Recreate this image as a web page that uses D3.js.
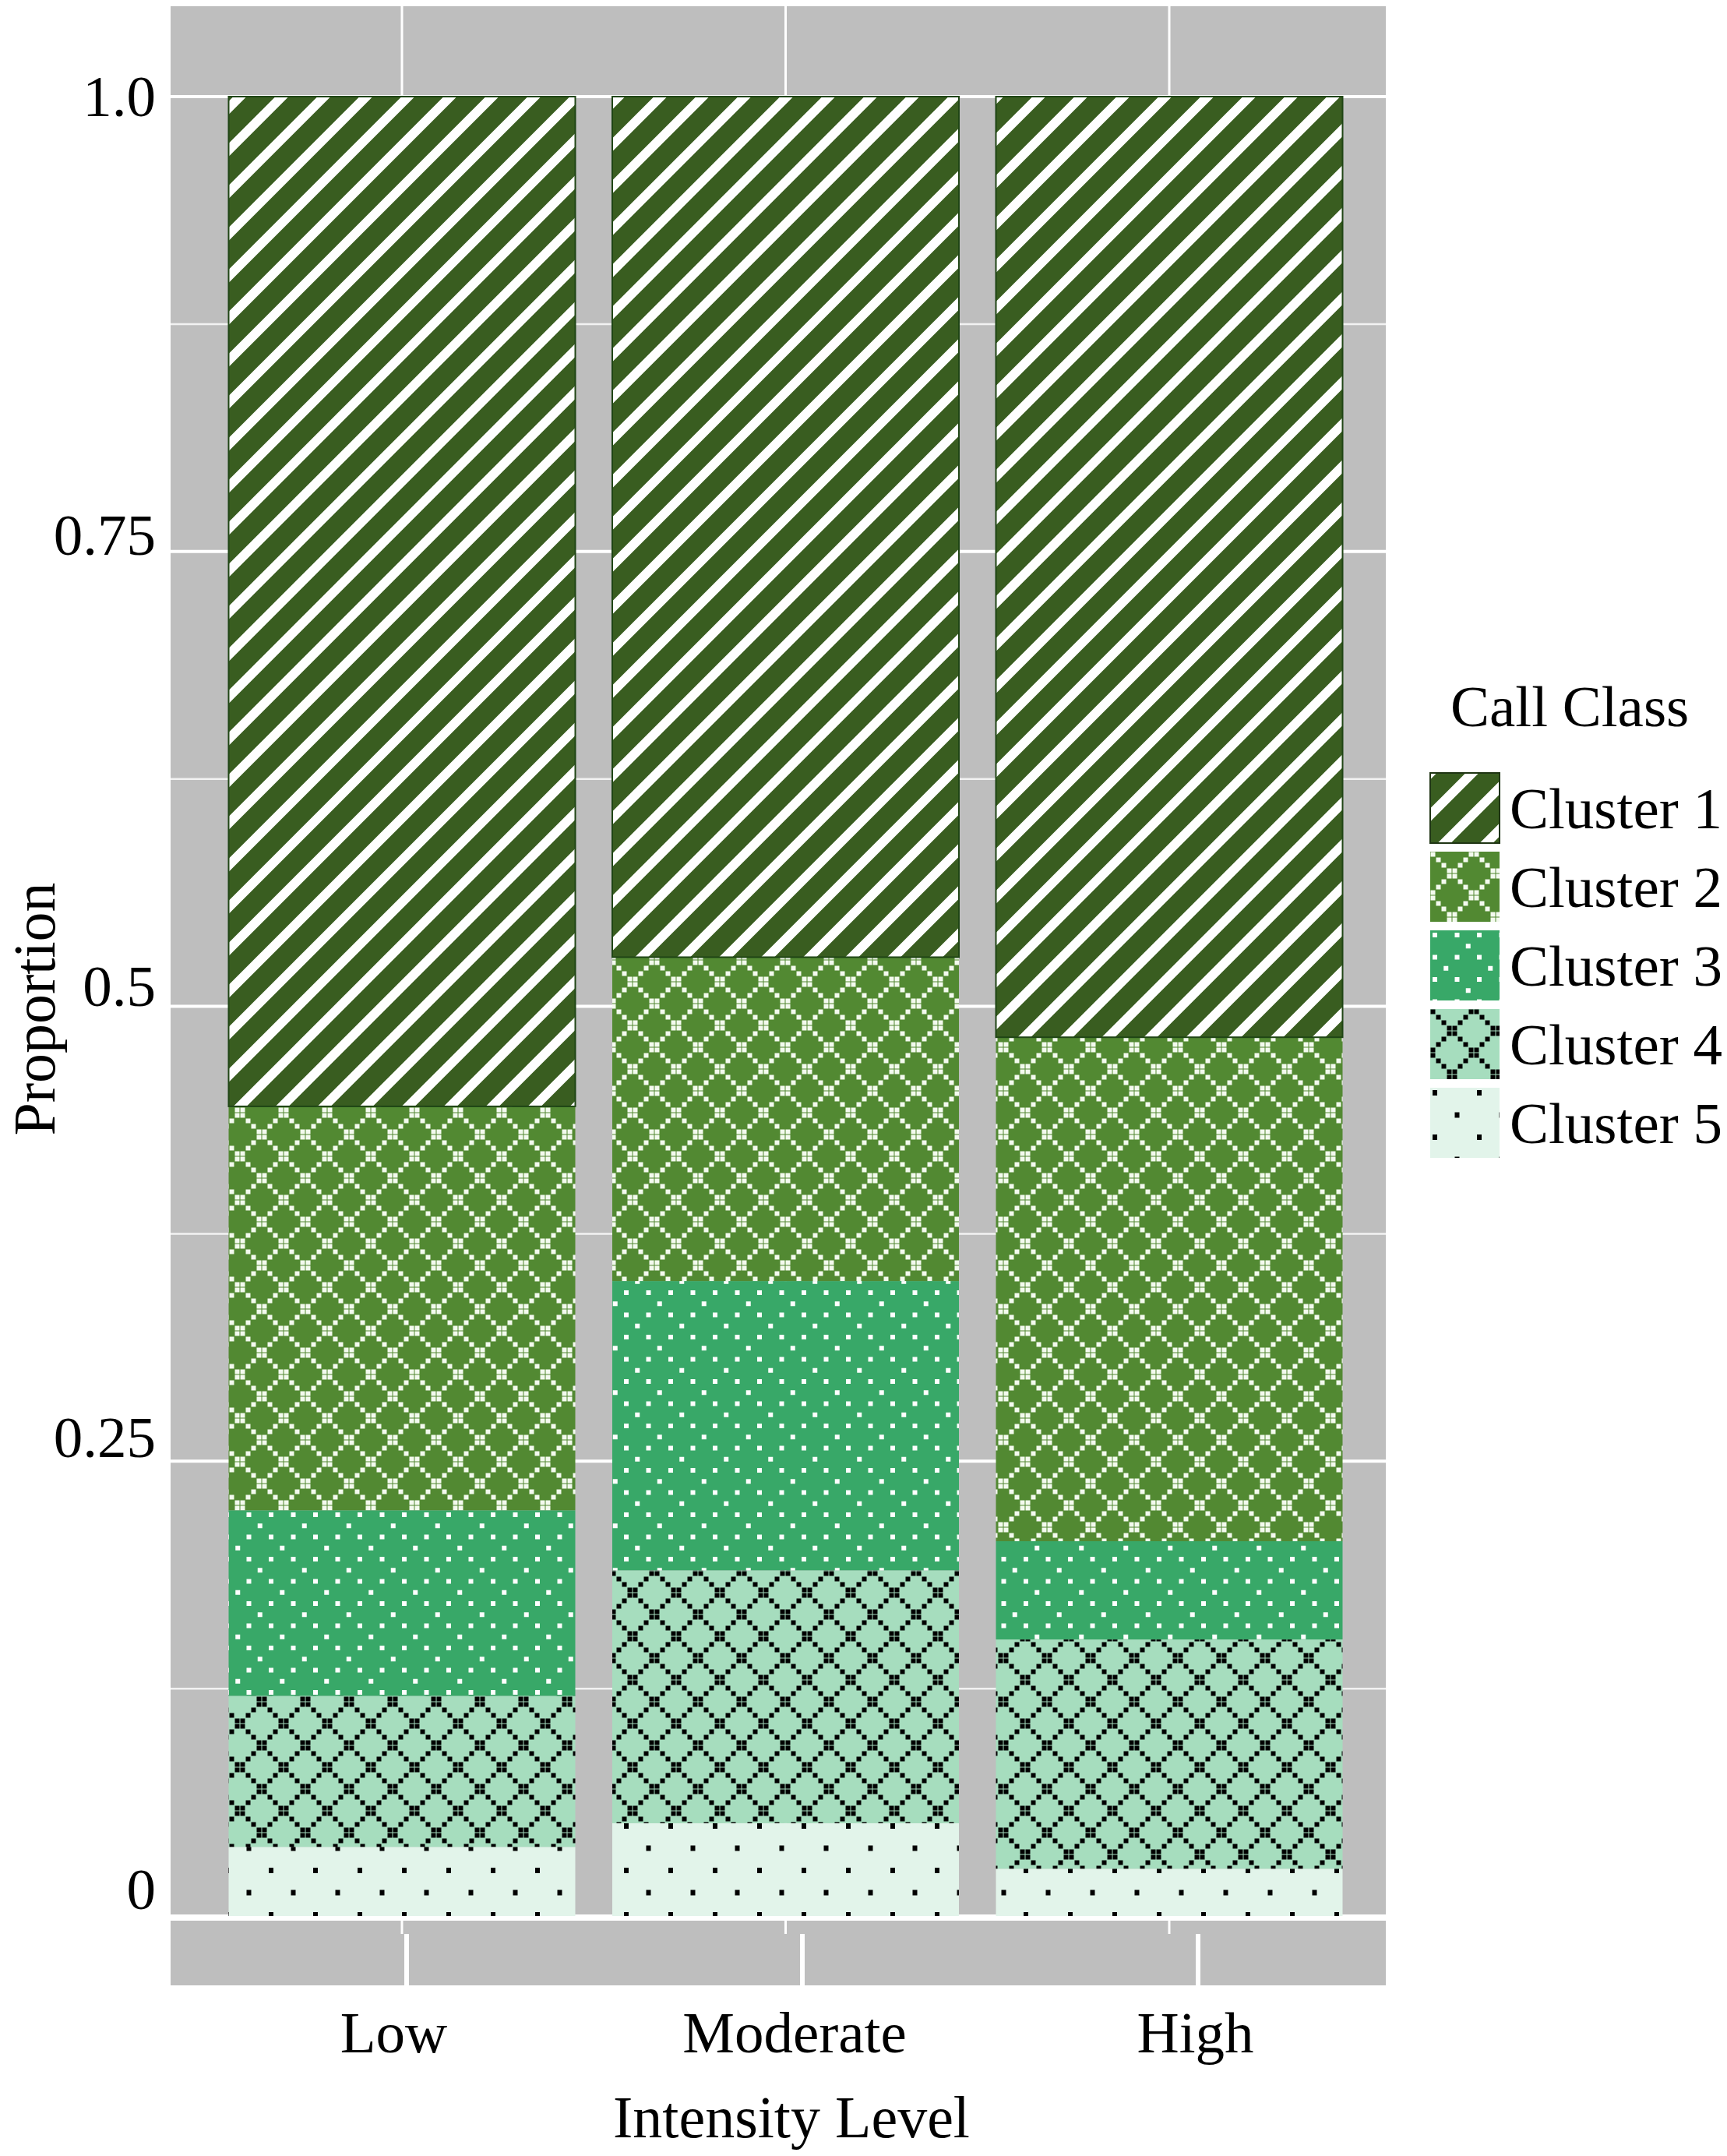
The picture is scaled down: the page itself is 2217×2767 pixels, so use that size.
<!DOCTYPE html>
<html>
<head>
<meta charset="utf-8">
<script src="https://cdn.jsdelivr.net/npm/d3@7"></script>
<style>
  body { margin: 0; background: #ffffff; }
  text { font-family: "Liberation Serif", "Times New Roman", serif; fill: #000; }
</style>
</head>
<body>
<div id="chart"></div>
<script>
// categories and series (proportions)
var levels = ["Low", "Moderate", "High"];
var clusters = ["Cluster 1", "Cluster 2", "Cluster 3", "Cluster 4", "Cluster 5"];
var cluster1 = [0.555, 0.473, 0.517];
var cluster2 = [0.222, 0.178, 0.277];
var cluster3 = [0.102, 0.159, 0.054];
var cluster4 = [0.083, 0.139, 0.126];
var cluster5 = [0.038, 0.051, 0.026];
var yTicks = [0, 0.25, 0.5, 0.75, 1];
var yTickLabels = ["0", "0.25", "0.5", "0.75", "1.0"];
var yMinor = [0.125, 0.375, 0.625, 0.875];

var fills = ["#395d20", "#528932", "#38a868", "#a6ddbe", "#e2f4ea"];

var width = 2217;
var height = 2767;

// table for the stack
var rows = levels.map(function(l, i) {
	return {level: l, "Cluster 1": cluster1[i], "Cluster 2": cluster2[i], "Cluster 3": cluster3[i],
		"Cluster 4": cluster4[i], "Cluster 5": cluster5[i]};
});

var svg = d3.select("#chart").append("svg")
	.attr("width", width)
	.attr("height", height);

svg.append("rect").attr("width", width).attr("height", height).attr("fill", "#ffffff");

// ---- patterns
var defs = svg.append("defs");

function pat(id, size, bg) {
	var p = defs.append("pattern")
		.attr("id", id)
		.attr("patternUnits", "userSpaceOnUse")
		.attr("width", size)
		.attr("height", size);
	p.append("rect").attr("width", size).attr("height", size).attr("fill", bg);
	return p;
}

// cluster 1 : white diagonal stripes
var s1 = 54;
pat("p0", s1, fills[0]).append("path")
	.attr("d", "M" + (-s1/4) + "," + (s1/4) + "L" + (s1/4) + "," + (-s1/4) +
		"M0," + s1 + "L" + s1 + ",0" +
		"M" + (s1*3/4) + "," + (s1*5/4) + "L" + (s1*5/4) + "," + (s1*3/4))
	.attr("stroke", "#ffffff")
	.attr("stroke-width", 12);

// cluster 2 and 4 : dotted diamond lattice
function lattice(id, bg, dot, sq) {
	var size = 56, step = 7;
	var p = pat(id, size, bg);
	for (var i = 0; i < 8; i++) {
		var c = 3.5 + step * i;
		p.append("rect").attr("x", c - sq/2).attr("y", c - sq/2).attr("width", sq).attr("height", sq).attr("fill", dot);
		p.append("rect").attr("x", c - sq/2).attr("y", size - c - sq/2).attr("width", sq).attr("height", sq).attr("fill", dot);
	}
}
lattice("p1", fills[1], "#f3faee", 6);
lattice("p3", fills[3], "#000000", 6);

// cluster 3 : white dots
var p2 = pat("p2", 57, fills[2]);
[[0, 0], [28.5, 0], [0, 28.5], [28.5, 28.5], [42.75, 14.25], [14.25, 42.75]].forEach(function(d) {
	p2.append("rect").attr("x", d[0] + 3).attr("y", d[1] + 3).attr("width", 6).attr("height", 6).attr("fill", "#ffffff");
});

// cluster 5 : sparse black dots
var p4 = pat("p4", 57, fills[4]);
[[0, 0], [28.5, 28.5]].forEach(function(d) {
	p4.append("rect").attr("x", d[0] + 3).attr("y", d[1] + 3).attr("width", 6).attr("height", 7).attr("fill", "#000000");
});

// ---- scales
var panel = {x0: 219, x1: 1779, y0: 8, y1: 2548};
var x = d3.scalePoint().domain(levels).range([516, 1501]);
var barW = 445;
var xTick = d3.scalePoint().domain(levels).range([522, 1538]);
var xLab = d3.scalePoint().domain(levels).range([505, 1534]);
var y = d3.scaleLinear().domain([0, 1]).range([2459, 124]);

// panel
svg.append("rect")
	.attr("x", panel.x0).attr("y", panel.y0)
	.attr("width", panel.x1 - panel.x0).attr("height", panel.y1 - panel.y0)
	.attr("fill", "#bebebe");

svg.selectAll(".minor").data(yMinor).enter().append("line")
	.attr("x1", panel.x0).attr("x2", panel.x1)
	.attr("y1", function(d) { return y(d); }).attr("y2", function(d) { return y(d); })
	.attr("stroke", "#f2f2f2").attr("stroke-width", 2.5);
svg.selectAll(".major").data(yTicks).enter().append("line")
	.attr("x1", panel.x0).attr("x2", panel.x1)
	.attr("y1", function(d) { return y(d); }).attr("y2", function(d) { return y(d); })
	.attr("stroke", "#ffffff").attr("stroke-width", 4);
svg.selectAll(".vgrid").data(levels).enter().append("line")
	.attr("x1", function(d) { return x(d); }).attr("x2", function(d) { return x(d); })
	.attr("y1", panel.y0).attr("y2", y(0))
	.attr("stroke", "#ffffff").attr("stroke-width", 3);

// ---- stacked bars
var stackKeys = clusters.slice().reverse();
var series = d3.stack().keys(stackKeys)(rows);

var groups = svg.selectAll(".series").data(series).enter().append("g")
	.attr("class", "series");
groups.selectAll("rect").data(function(s) { return s.map(function(d) { d.key = s.key; return d; }); })
	.enter().append("rect")
	.attr("x", function(d) { return x(d.data.level) - barW / 2; })
	.attr("width", barW)
	.attr("y", function(d) { return y(d[1]); })
	.attr("height", function(d) { return y(d[0]) - y(d[1]); })
	.attr("fill", function(d) { return "url(#p" + clusters.indexOf(d.key) + ")"; })
	.attr("stroke", function(d) { return d.key == "Cluster 1" ? "#1f4515" : "none"; })
	.attr("stroke-width", 2);

// bottom strip below the bars
svg.append("line")
	.attr("x1", panel.x0).attr("x2", panel.x1)
	.attr("y1", y(0) + 4).attr("y2", y(0) + 4)
	.attr("stroke", "#ffffff").attr("stroke-width", 4);
svg.selectAll(".tickA").data(levels).enter().append("line")
	.attr("x1", function(d) { return x(d); }).attr("x2", function(d) { return x(d); })
	.attr("y1", y(0) + 4).attr("y2", y(0) + 23)
	.attr("stroke", "#ffffff").attr("stroke-width", 3);
svg.selectAll(".tickB").data(levels).enter().append("line")
	.attr("x1", function(d) { return xTick(d); }).attr("x2", function(d) { return xTick(d); })
	.attr("y1", y(0) + 23).attr("y2", panel.y1)
	.attr("stroke", "#ffffff").attr("stroke-width", 6);

// ---- axes (labels only)
var yAxis = svg.append("g")
	.attr("transform", "translate(200,0)")
	.call(d3.axisLeft(y).tickValues(yTicks).tickSize(0).tickPadding(0)
		.tickFormat(function(d, i) { return yTickLabels[i]; }));
yAxis.select(".domain").remove();
yAxis.selectAll("text")
	.attr("font-family", "Liberation Serif")
	.attr("font-size", "75px")
	.attr("fill", "#000")
	.attr("dy", function(d) { return d == 1 ? "0.32em" : (24 - 18 * (1 - d) - 16) + "px"; });

var xAxis = svg.append("g")
	.attr("transform", "translate(0,2634)")
	.call(d3.axisBottom(xLab).tickSize(0).tickPadding(0));
xAxis.select(".domain").remove();
xAxis.selectAll("text")
	.attr("y", 0).attr("dy", 0)
	.attr("font-family", "Liberation Serif")
	.attr("font-size", "75px")
	.attr("fill", "#000");

svg.append("text")
	.attr("x", 1016).attr("y", 2743)
	.attr("text-anchor", "middle")
	.attr("font-size", "76px")
	.text("Intensity Level");

svg.append("text")
	.attr("transform", "translate(70,1295) rotate(-90)")
	.attr("text-anchor", "middle")
	.attr("font-size", "76px")
	.text("Proportion");

// ---- legend
var legend = svg.append("g").attr("transform", "translate(1836,992)");
legend.append("text")
	.attr("x", 26).attr("y", -60)
	.attr("font-size", "75px")
	.text("Call Class");
var items = legend.selectAll(".item").data(clusters).enter().append("g")
	.attr("transform", function(d, i) { return "translate(0," + (i * 101) + ")"; });
items.append("rect")
	.attr("width", 89).attr("height", 90)
	.attr("fill", function(d, i) { return "url(#p" + i + ")"; })
	.attr("stroke", function(d, i) { return i == 0 ? "#1f3514" : "none"; })
	.attr("stroke-width", 2);
items.append("text")
	.attr("x", 102).attr("y", 71)
	.attr("font-size", "75px")
	.text(function(d) { return d; });
</script>
</body>
</html>
